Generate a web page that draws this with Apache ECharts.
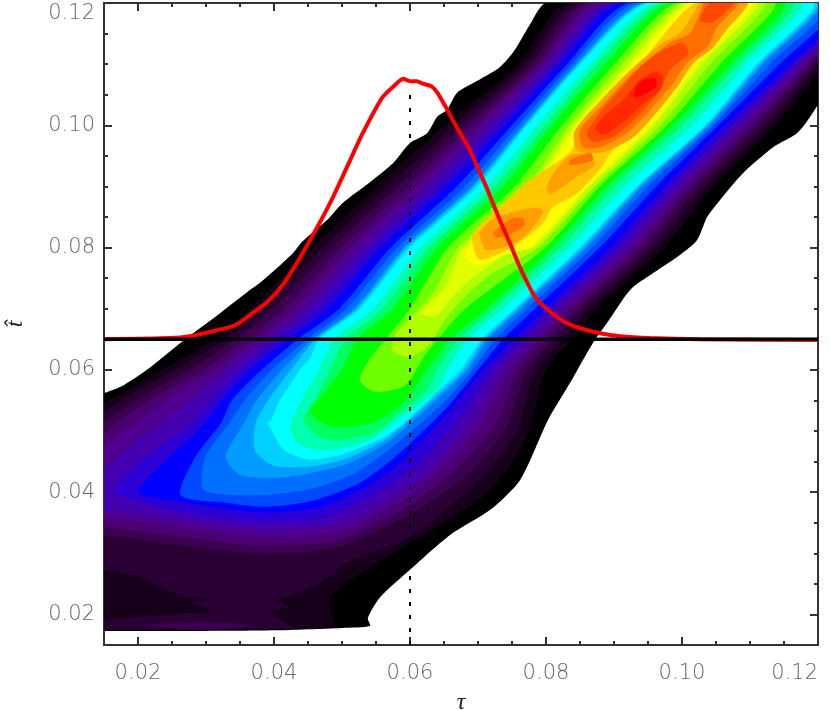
<!DOCTYPE html>
<html>
<head>
<meta charset="utf-8">
<style>
    html, body { margin: 0; padding: 0; background: #fff; }
    #main { width: 830px; height: 710px; }
</style>
<script src="https://cdn.jsdelivr.net/npm/echarts@6/dist/echarts.min.js"></script>
</head>
<body>
<div id="main"></div>
<script>
// 轴刻度
const tauMajor = [0.02, 0.04, 0.06, 0.08, 0.10, 0.12]
const tauMinor = [0.025, 0.03, 0.035, 0.045, 0.05, 0.055, 0.065, 0.07, 0.075, 0.085, 0.09, 0.095, 0.105, 0.11, 0.115]
const hatMajor = [0.02, 0.04, 0.06, 0.08, 0.10, 0.12]
const hatMinor = [0.025, 0.03, 0.035, 0.045, 0.05, 0.055, 0.065, 0.07, 0.075, 0.085, 0.09, 0.095, 0.105, 0.11, 0.115]

// 红线和虚线
const redTau = [0.0150, 0.0247, 0.0276, 0.0313, 0.0343, 0.0365, 0.0390, 0.0413, 0.0438, 0.0463, 0.0487, 0.0512, 0.0529, 0.0559, 0.0581, 0.0590, 0.0600, 0.0610, 0.0619, 0.0631, 0.0640, 0.0654, 0.0669, 0.0688, 0.0699, 0.0713, 0.0732, 0.0747, 0.0762, 0.0784, 0.0806, 0.0828, 0.0850, 0.0879, 0.0909, 0.0953, 0.1026, 0.1200]
const redHat = [0.0650, 0.0652, 0.0655, 0.0664, 0.0673, 0.0690, 0.0711, 0.0739, 0.0783, 0.0832, 0.0883, 0.0943, 0.0984, 0.1045, 0.1069, 0.1076, 0.1072, 0.1072, 0.1068, 0.1064, 0.1054, 0.1027, 0.0996, 0.0960, 0.0932, 0.0897, 0.0845, 0.0807, 0.0767, 0.0719, 0.0695, 0.0678, 0.0668, 0.0660, 0.0655, 0.0652, 0.0650, 0.0649]
const baseTau = [0.015, 0.12]
const baseHat = [0.065, 0.065]
const markTau = [0.06, 0.06]
const markHat = [0.015, 0.1060]

// 等值线，从外到内
const band00 = [[0.0801, 0.12], [0.0776, 0.1164], [0.0754, 0.1123], [0.0732, 0.1095], [0.0693, 0.1069], [0.0669, 0.1053], [0.0654, 0.1025], [0.0640, 0.1014], [0.0625, 0.0987], [0.0600, 0.0971], [0.0575, 0.0938], [0.0541, 0.0907], [0.0501, 0.0873], [0.0478, 0.0845], [0.0457, 0.0825], [0.0441, 0.0809], [0.0428, 0.0791], [0.0404, 0.0766], [0.0379, 0.0742], [0.0365, 0.0731], [0.0307, 0.0681], [0.0268, 0.0649], [0.0213, 0.0600], [0.0179, 0.0575], [0.0150, 0.0562], [0.0120, 0.0552], [0.0120, 0.0173], [0.0135, 0.0173], [0.0150, 0.0173], [0.0200, 0.0173], [0.0300, 0.0173], [0.0400, 0.0174], [0.0500, 0.0178], [0.0541, 0.0181], [0.0538, 0.0194], [0.0556, 0.0228], [0.0600, 0.0273], [0.0659, 0.0330], [0.0718, 0.0371], [0.0762, 0.0420], [0.0803, 0.0518], [0.0835, 0.0578], [0.0869, 0.0644], [0.0890, 0.0677], [0.0924, 0.0731], [0.0957, 0.0758], [0.0997, 0.0788], [0.1022, 0.0812], [0.1037, 0.0850], [0.1056, 0.0878], [0.1090, 0.0922], [0.1134, 0.0964], [0.1171, 0.0989], [0.1201, 0.1036], [0.1240, 0.112], [0.1290, 0.12]]
const band01 = [[0.0831, 0.12], [0.0760, 0.11], [0.0651, 0.10], [0.0551, 0.09], [0.0456, 0.08], [0.0365, 0.07], [0.0312, 0.065], [0.0235, 0.06], [0.0181, 0.0564], [0.0150, 0.0546], [0.0120, 0.0530], [0.0120, 0.0176], [0.0135, 0.0176], [0.0150, 0.0176], [0.0200, 0.0176], [0.0300, 0.0176], [0.0400, 0.0177], [0.0487, 0.0181], [0.0482, 0.0227], [0.0512, 0.0256], [0.0600, 0.0317], [0.0644, 0.0346], [0.0718, 0.0403], [0.0769, 0.0485], [0.0800, 0.06], [0.0838, 0.065], [0.0875, 0.07], [0.0974, 0.08], [0.1046, 0.09], [0.1137, 0.10], [0.1212, 0.11], [0.1279, 0.12]]
const band02 = [[0.0843, 0.12], [0.0769, 0.11], [0.0665, 0.10], [0.0568, 0.09], [0.0471, 0.08], [0.0382, 0.07], [0.0328, 0.065], [0.0254, 0.06], [0.0196, 0.0564], [0.0150, 0.0531], [0.0120, 0.0510], [0.0120, 0.0278], [0.0150, 0.0273], [0.0193, 0.0264], [0.0232, 0.0245], [0.0272, 0.0228], [0.0316, 0.0228], [0.0279, 0.0219], [0.0310, 0.0206], [0.0232, 0.0199], [0.0150, 0.0191], [0.0120, 0.0190], [0.0120, 0.0175], [0.0135, 0.0175], [0.0150, 0.0175], [0.0200, 0.0175], [0.0300, 0.0175], [0.0400, 0.0176], [0.0428, 0.0178], [0.0394, 0.0204], [0.0421, 0.0212], [0.0404, 0.0224], [0.0421, 0.0228], [0.0438, 0.0235], [0.0468, 0.0252], [0.0507, 0.0284], [0.0600, 0.0327], [0.0696, 0.0412], [0.0754, 0.0493], [0.0785, 0.06], [0.0825, 0.065], [0.0863, 0.07], [0.0962, 0.08], [0.1035, 0.09], [0.1126, 0.10], [0.1203, 0.11], [0.1274, 0.12]]
const band03 = [[0.0854, 0.12], [0.0778, 0.11], [0.0678, 0.10], [0.0582, 0.09], [0.0485, 0.08], [0.0399, 0.07], [0.0343, 0.065], [0.0276, 0.06], [0.0218, 0.0564], [0.0150, 0.0515], [0.0120, 0.0493], [0.0120, 0.0333], [0.0150, 0.0330], [0.0262, 0.0313], [0.0385, 0.0299], [0.0490, 0.0309], [0.0600, 0.0363], [0.0681, 0.0425], [0.0740, 0.0502], [0.0772, 0.06], [0.0813, 0.065], [0.0853, 0.07], [0.0950, 0.08], [0.1025, 0.09], [0.1116, 0.10], [0.1196, 0.11], [0.1269, 0.12]]
const band04 = [[0.0865, 0.12], [0.0787, 0.11], [0.0690, 0.10], [0.0596, 0.09], [0.0500, 0.08], [0.0415, 0.07], [0.0359, 0.065], [0.0296, 0.06], [0.0254, 0.0575], [0.0181, 0.0523], [0.0150, 0.0497], [0.0120, 0.0475], [0.0120, 0.0348], [0.0150, 0.0343], [0.0276, 0.0325], [0.0385, 0.0312], [0.0497, 0.0322], [0.0600, 0.0379], [0.0666, 0.0436], [0.0725, 0.0510], [0.0760, 0.06], [0.0801, 0.065], [0.0843, 0.07], [0.0940, 0.08], [0.1015, 0.09], [0.1106, 0.10], [0.1188, 0.11], [0.1265, 0.12]]
const band05 = [[0.0875, 0.12], [0.0794, 0.11], [0.0701, 0.10], [0.0610, 0.09], [0.0513, 0.08], [0.0431, 0.07], [0.0374, 0.065], [0.0313, 0.06], [0.0276, 0.0575], [0.0203, 0.0518], [0.0150, 0.0475], [0.0120, 0.0450], [0.0120, 0.0363], [0.0150, 0.0358], [0.0291, 0.0338], [0.0385, 0.0325], [0.0497, 0.0335], [0.0593, 0.0390], [0.0651, 0.0444], [0.0710, 0.0518], [0.0747, 0.06], [0.0790, 0.065], [0.0831, 0.07], [0.0928, 0.08], [0.1006, 0.09], [0.1096, 0.10], [0.1182, 0.11], [0.1260, 0.12]]
const band06 = [[0.0887, 0.12], [0.0803, 0.11], [0.0715, 0.10], [0.0625, 0.09], [0.0528, 0.08], [0.0446, 0.07], [0.0388, 0.065], [0.0332, 0.06], [0.0306, 0.0575], [0.0240, 0.0518], [0.0188, 0.0474], [0.0150, 0.0436], [0.0120, 0.0405], [0.0120, 0.0376], [0.0150, 0.0371], [0.0218, 0.0361], [0.0385, 0.0338], [0.0497, 0.0349], [0.0578, 0.0395], [0.0629, 0.0436], [0.0696, 0.0526], [0.0734, 0.06], [0.0778, 0.065], [0.0821, 0.07], [0.0918, 0.08], [0.0996, 0.09], [0.1085, 0.10], [0.1174, 0.11], [0.1256, 0.12]]
const band07 = [[0.0899, 0.12], [0.0812, 0.11], [0.0728, 0.10], [0.0640, 0.09], [0.0543, 0.08], [0.0463, 0.07], [0.0406, 0.065], [0.0350, 0.06], [0.0328, 0.0575], [0.0272, 0.0506], [0.0232, 0.0474], [0.0179, 0.0425], [0.0165, 0.0400], [0.0247, 0.0371], [0.0385, 0.0351], [0.0482, 0.0361], [0.0556, 0.0403], [0.0615, 0.0449], [0.0681, 0.0534], [0.0721, 0.06], [0.0765, 0.065], [0.0809, 0.07], [0.0906, 0.08], [0.0985, 0.09], [0.1075, 0.10], [0.1166, 0.11], [0.1251, 0.12]]
const band08 = [[0.0909, 0.12], [0.0821, 0.11], [0.0740, 0.10], [0.0654, 0.09], [0.0557, 0.08], [0.0479, 0.07], [0.0421, 0.065], [0.0365, 0.06], [0.0324, 0.0551], [0.0288, 0.0500], [0.0237, 0.0448], [0.0201, 0.0400], [0.0263, 0.0384], [0.0385, 0.0366], [0.0463, 0.0374], [0.0507, 0.0392], [0.0556, 0.0423], [0.0591, 0.0453], [0.0666, 0.0543], [0.0707, 0.06], [0.0753, 0.065], [0.0799, 0.07], [0.0894, 0.08], [0.0975, 0.09], [0.1063, 0.10], [0.1159, 0.11], [0.1247, 0.12]]
const band09 = [[0.0922, 0.12], [0.0831, 0.11], [0.0750, 0.10], [0.0669, 0.09], [0.0572, 0.08], [0.0496, 0.07], [0.0435, 0.065], [0.0382, 0.06], [0.0338, 0.055], [0.0322, 0.0513], [0.0284, 0.0457], [0.0263, 0.0395], [0.0335, 0.0382], [0.0385, 0.0376], [0.0454, 0.0385], [0.0526, 0.0415], [0.0585, 0.0464], [0.0658, 0.0543], [0.0700, 0.06], [0.0737, 0.065], [0.0784, 0.07], [0.0879, 0.08], [0.0962, 0.09], [0.1053, 0.10], [0.1143, 0.11], [0.1229, 0.12]]
const band10 = [[0.0932, 0.12], [0.0838, 0.11], [0.0759, 0.10], [0.0681, 0.09], [0.0582, 0.08], [0.0507, 0.07], [0.0449, 0.065], [0.0397, 0.06], [0.0357, 0.055], [0.0334, 0.0513], [0.0299, 0.0457], [0.0297, 0.0403], [0.0385, 0.0395], [0.0454, 0.0405], [0.0519, 0.0431], [0.0578, 0.0477], [0.0650, 0.0547], [0.0692, 0.06], [0.0725, 0.065], [0.0772, 0.07], [0.0868, 0.08], [0.0950, 0.09], [0.1046, 0.10], [0.1129, 0.11], [0.1215, 0.12]]
const band11 = [[0.0941, 0.12], [0.0844, 0.11], [0.0766, 0.10], [0.0690, 0.09], [0.0591, 0.08], [0.0518, 0.07], [0.0457, 0.065], [0.0412, 0.06], [0.0374, 0.055], [0.0356, 0.0513], [0.0329, 0.0457], [0.0350, 0.0428], [0.0401, 0.0423], [0.0454, 0.0431], [0.0512, 0.0448], [0.0571, 0.0485], [0.0642, 0.0554], [0.0685, 0.06], [0.0715, 0.065], [0.0763, 0.07], [0.0859, 0.08], [0.0941, 0.09], [0.1040, 0.10], [0.1119, 0.11], [0.1203, 0.12]]
const band11b = [[0.0945, 0.12], [0.0847, 0.11], [0.0769, 0.10], [0.0694, 0.09], [0.0595, 0.08], [0.0522, 0.07], [0.0461, 0.065], [0.0425, 0.06], [0.0391, 0.055], [0.0373, 0.0513], [0.0372, 0.0468], [0.0400, 0.0443], [0.0454, 0.0442], [0.0510, 0.0456], [0.0566, 0.0488], [0.0638, 0.0556], [0.0680, 0.06], [0.0710, 0.065], [0.0758, 0.07], [0.0854, 0.08], [0.0937, 0.09], [0.1037, 0.10], [0.1114, 0.11], [0.1198, 0.12]]
const band12 = [[0.0949, 0.12], [0.0850, 0.11], [0.0772, 0.10], [0.0699, 0.09], [0.0600, 0.08], [0.0526, 0.07], [0.0466, 0.065], [0.0454, 0.0621], [0.0438, 0.06], [0.0425, 0.0578], [0.0409, 0.0551], [0.0396, 0.0518], [0.0391, 0.0513], [0.0415, 0.0469], [0.0454, 0.0453], [0.0507, 0.0464], [0.0562, 0.0490], [0.0591, 0.0513], [0.0635, 0.0559], [0.0674, 0.06], [0.0706, 0.065], [0.0754, 0.07], [0.0850, 0.08], [0.0934, 0.09], [0.1034, 0.10], [0.1110, 0.11], [0.1193, 0.12]]
const band13 = [[0.0960, 0.12], [0.0865, 0.11], [0.0787, 0.10], [0.0713, 0.09], [0.0616, 0.08], [0.0546, 0.07], [0.0488, 0.065], [0.0466, 0.06], [0.0441, 0.0551], [0.0424, 0.0505], [0.0438, 0.0477], [0.0482, 0.0469], [0.0541, 0.0485], [0.0591, 0.0526], [0.0640, 0.0567], [0.0655, 0.06], [0.0685, 0.065], [0.0737, 0.07], [0.0834, 0.08], [0.0916, 0.09], [0.1015, 0.10], [0.1094, 0.11], [0.1176, 0.12]]
const band14 = [[0.0971, 0.12], [0.0875, 0.11], [0.0799, 0.10], [0.0725, 0.09], [0.0628, 0.08], [0.0560, 0.07], [0.0506, 0.065], [0.0482, 0.06], [0.0460, 0.0551], [0.0444, 0.0518], [0.0465, 0.0492], [0.0497, 0.0485], [0.0549, 0.0498], [0.0591, 0.0534], [0.0625, 0.0567], [0.0640, 0.06], [0.0672, 0.065], [0.0724, 0.07], [0.0821, 0.08], [0.0901, 0.09], [0.1000, 0.10], [0.1082, 0.11], [0.1163, 0.12]]
const band15 = [[0.0979, 0.12], [0.0887, 0.11], [0.0809, 0.10], [0.0737, 0.09], [0.0640, 0.08], [0.0575, 0.07], [0.0522, 0.065], [0.0500, 0.06], [0.0471, 0.0559], [0.0453, 0.0531], [0.0484, 0.0507], [0.0543, 0.0513], [0.0591, 0.0546], [0.0625, 0.06], [0.0659, 0.065], [0.0713, 0.07], [0.0809, 0.08], [0.0890, 0.09], [0.0987, 0.10], [0.1071, 0.11], [0.1151, 0.12]]
const band16 = [[0.0991, 0.12], [0.0901, 0.11], [0.0824, 0.10], [0.0754, 0.09], [0.0656, 0.08], [0.0600, 0.07], [0.0563, 0.0649], [0.0538, 0.0613], [0.0526, 0.0583], [0.0549, 0.0564], [0.0593, 0.0575], [0.0622, 0.0624], [0.0641, 0.065], [0.0681, 0.07], [0.0799, 0.08], [0.0879, 0.09], [0.0978, 0.10], [0.1056, 0.11], [0.1137, 0.12]]
const band17 = [[0.1000, 0.12], [0.0912, 0.11], [0.0835, 0.10], [0.0772, 0.09], [0.0671, 0.08], [0.0637, 0.0731], [0.0612, 0.0698], [0.0578, 0.0657], [0.0574, 0.0632], [0.0600, 0.0621], [0.0629, 0.0641], [0.0651, 0.0682], [0.0676, 0.0714], [0.0718, 0.0755], [0.0788, 0.08], [0.0872, 0.09], [0.0968, 0.10], [0.1041, 0.11], [0.1122, 0.12]]
const band18 = [[0.1006, 0.12], [0.0921, 0.11], [0.0841, 0.10], [0.0779, 0.09], [0.0678, 0.08], [0.0662, 0.0763], [0.0651, 0.0734], [0.0626, 0.0706], [0.0615, 0.0693], [0.0638, 0.0688], [0.0662, 0.0718], [0.0688, 0.0747], [0.0718, 0.0771], [0.0747, 0.0796], [0.0781, 0.08], [0.0865, 0.09], [0.0959, 0.10], [0.1029, 0.11], [0.1112, 0.12]]
const band19 = [[0.1012, 0.12], [0.0928, 0.11], [0.0847, 0.10], [0.0787, 0.09], [0.0685, 0.08], [0.0681, 0.0783], [0.0703, 0.0771], [0.0740, 0.0788], [0.0776, 0.08], [0.0860, 0.09], [0.0953, 0.10], [0.1022, 0.11], [0.1104, 0.12]]
const band20 = [[0.1019, 0.12], [0.0938, 0.11], [0.0857, 0.10], [0.0838, 0.0960], [0.0821, 0.0943], [0.0776, 0.0911], [0.0743, 0.0878], [0.0693, 0.0824], [0.0693, 0.0801], [0.0703, 0.0780], [0.0751, 0.0801], [0.0796, 0.0840], [0.0810, 0.0866], [0.0846, 0.0889], [0.0879, 0.0927], [0.0899, 0.0960], [0.0946, 0.10], [0.1016, 0.11], [0.1097, 0.12]]
const band20b = [[0.1026, 0.12], [0.1018, 0.1185], [0.0998, 0.1152], [0.0968, 0.1132], [0.0916, 0.1082], [0.0878, 0.1038], [0.0842, 0.0990], [0.0846, 0.0958], [0.0884, 0.0956], [0.0928, 0.0980], [0.0962, 0.1020], [0.0995, 0.1066], [0.1015, 0.1100], [0.1045, 0.1126], [0.1068, 0.1160], [0.1096, 0.12]]
const band21 = [[0.1032, 0.12], [0.1028, 0.1189], [0.1012, 0.1151], [0.0982, 0.1135], [0.0928, 0.1086], [0.0890, 0.1041], [0.0850, 0.0992], [0.0854, 0.0964], [0.0879, 0.0964], [0.0919, 0.0987], [0.0953, 0.1025], [0.0987, 0.1069], [0.1007, 0.1102], [0.1037, 0.1128], [0.1052, 0.1161], [0.1082, 0.12]]
const band21b = [[0.0703, 0.0824], [0.0728, 0.0850], [0.0787, 0.0866], [0.0796, 0.0857], [0.0762, 0.0812], [0.0713, 0.0796]]
const band21c = [[0.0801, 0.0899], [0.0810, 0.0919], [0.0835, 0.0951], [0.0865, 0.0951], [0.0872, 0.0935], [0.0843, 0.0914], [0.0806, 0.0886]]
const band22 = [[0.0860, 0.0987], [0.0879, 0.1020], [0.0909, 0.1058], [0.0938, 0.1095], [0.0972, 0.1123], [0.1001, 0.1135], [0.1009, 0.1118], [0.0982, 0.1090], [0.0968, 0.1058], [0.0934, 0.1014], [0.0899, 0.0981], [0.0869, 0.0973]]
const band22b = [[0.1026, 0.1172], [0.1041, 0.12], [0.1075, 0.12], [0.1056, 0.1177], [0.1041, 0.1167]]
const band22c = [[0.0722, 0.0824], [0.0751, 0.0848], [0.0766, 0.0848], [0.0769, 0.0837], [0.0751, 0.0824], [0.0728, 0.0816]]
const band22d = [[0.0835, 0.0943], [0.0865, 0.0955], [0.0869, 0.0943], [0.0835, 0.0935]]
const band23 = [[0.0872, 0.0996], [0.0890, 0.1020], [0.0913, 0.1041], [0.0938, 0.1074], [0.0960, 0.1087], [0.0972, 0.1082], [0.0968, 0.1058], [0.0938, 0.1030], [0.0913, 0.1004], [0.0884, 0.0984]]
const band24 = [[0.0931, 0.1061], [0.0943, 0.1074], [0.0960, 0.1077], [0.0963, 0.1066], [0.0949, 0.1053], [0.0931, 0.1046]]
const patchFloor = [[0.0206, 0.0182], [0.0294, 0.0188], [0.0369, 0.0182], [0.0294, 0.0175]]

const bands = [
    band00, band01, band02, patchFloor, band03, band04, band05, band06, band07, band08,
    band09, band10, band11, band11b, band12, band13, band14, band15, band16, band17, band18,
    band19, band20, band20b, band21b, band21c, band21, band22, band22b, band22c, band22d, band23, band24
]
const bandColors = [
    '#000000', '#16001a', '#2a0034', '#3c0050', '#3c0050', '#4a0070', '#500090', '#4400b0', '#2c00d4', '#0000ff',
    '#0048ff', '#0070ff', '#009cff', '#00d0ff', '#00ffff', '#00ffb0', '#00ff60', '#00ff00', '#70ff00', '#b0ff00', '#e0ff00',
    '#ffff00', '#ffc800', '#ffa000', '#ffa000', '#ffa000', '#ff7000', '#ff4800', '#ff4800', '#ff7000', '#ff7000', '#ff2800', '#ff0000'
]

function toPairs(xs, ys) {
    return xs.map((x, i) => [x, ys[i]])
}

const labelStyle = { color: '#666', fontFamily: 'DejaVu Sans', fontWeight: 200, fontSize: 21 }
const frameLine = { show: true, lineStyle: { color: '#333', width: 2 } }

function axisOf(position, major, minor, labelOpt) {
    return {
        type: 'value',
        position: position,
        min: 0.015,
        max: 0.12,
        splitLine: { show: false },
        axisLine: frameLine,
        axisTick: {
            show: true,
            inside: true,
            length: major ? 8 : 4,
            lineStyle: { color: '#333', width: 2 },
            customValues: major || minor
        },
        axisLabel: labelOpt
            ? Object.assign({ customValues: major, formatter: (v) => v.toFixed(2) }, labelStyle, labelOpt)
            : { show: false }
    }
}

const chart = echarts.init(document.getElementById('main'))
const xAxes = [
    axisOf('bottom', tauMajor, null, { margin: 18, alignMaxLabel: 'right' }),
    axisOf('bottom', null, tauMinor),
    axisOf('top', tauMajor, null),
    axisOf('top', null, tauMinor)
]
const yAxes = [
    axisOf('left', hatMajor, null, { margin: 9, verticalAlignMaxLabel: 'top' }),
    axisOf('left', null, hatMinor),
    axisOf('right', hatMajor, null),
    axisOf('right', null, hatMinor)
]
const nameStyle = { color: '#222', fontFamily: 'Liberation Serif', fontStyle: 'italic', fontSize: 24 }
Object.assign(xAxes[0], { name: 'τ', nameLocation: 'middle', nameGap: 46, nameTextStyle: nameStyle })
Object.assign(yAxes[0], { name: 't\u0302', nameLocation: 'middle', nameGap: 76, nameTextStyle: nameStyle })

chart.setOption({
    animation: false,
    backgroundColor: '#fff',
    grid: { left: 104, right: 12, top: 3, height: 642, outerBoundsMode: 'none' },
    xAxis: xAxes,
    yAxis: yAxes,
    series: [
        {
            type: 'custom',
            clip: true,
            z: 1,
            data: bands.map((b, i) => [i]),
            renderItem: (params, api) => {
                const i = api.value(0)
                return {
                    type: 'polygon',
                    shape: { points: bands[i].map((p) => api.coord(p)), smooth: 0.25 },
                    style: { fill: bandColors[i], stroke: null }
                }
            }
        },
        {
            type: 'line',
            z: 3,
            symbol: 'none',
            data: toPairs(markTau, markHat),
            lineStyle: { color: '#000', width: 2, type: [4, 9] }
        },
        {
            type: 'line',
            z: 4,
            symbol: 'none',
            smooth: 0.2,
            data: toPairs(redTau, redHat),
            lineStyle: { color: '#ff0000', width: 4 }
        },
        {
            type: 'line',
            z: 5,
            symbol: 'none',
            data: toPairs(baseTau, baseHat),
            lineStyle: { color: '#000', width: 3.5 }
        }
    ]
})
</script>
</body>
</html>
